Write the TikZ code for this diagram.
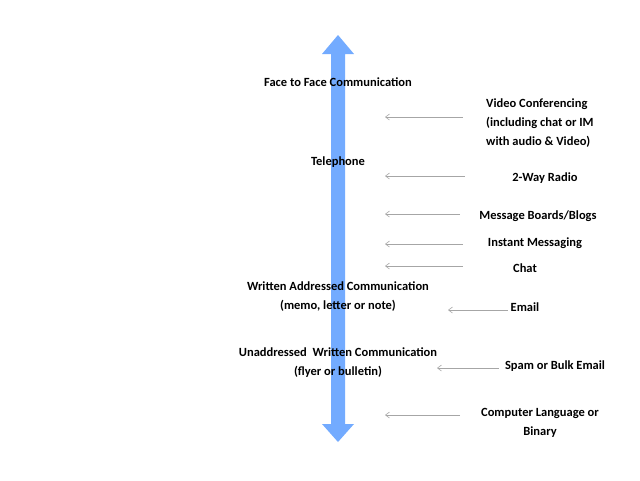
\documentclass[tikz,border=0pt]{standalone}
\usepackage{fontspec}
\setmainfont{Carlito}
\usetikzlibrary{arrows.meta}
\begin{document}
\begin{tikzpicture}[x=1pt,y=-1pt,
  lbl/.style={font=\bfseries\fontsize{12.5}{19}\selectfont, align=center, inner sep=0pt},
  ptr/.style={draw=gray!70, line width=0.6pt, -{Straight Barb[length=4pt,width=6pt]}}]
\useasboundingbox (0,0) rectangle (640,480);
\fill[blue!55!cyan!70!black!80, fill=blue!60!cyan!55] (331,54) -- (322,54) -- (338,35) -- (354,54) -- (345,54) -- (345,424) -- (354,424) -- (338,442) -- (322,424) -- (331,424) -- cycle;
\node[lbl] (f2f) at (338,82) {Face to Face Communication};
\node[lbl] (tel) at (338,162) {Telephone};
\node[lbl] (wac) at (338,297) {Written Addressed Communication\\(memo, letter or note)};
\node[lbl] (uwc) at (338,363) {Unaddressed\ \ Written Communication\\(flyer or bulletin)};
\node[lbl,align=left,anchor=west] (vc) at (486,123) {Video Conferencing\\(including chat or IM\\with audio \& Video)};
\node[lbl] (rad) at (545,178) {2-Way Radio};
\node[lbl] (mb) at (538,216) {Message Boards/Blogs};
\node[lbl] (im) at (535,243) {Instant Messaging};
\node[lbl] (chat) at (525,268) {Chat};
\node[lbl] (em) at (525,307) {Email};
\node[lbl] (spam) at (555,366) {Spam or Bulk Email};
\node[lbl] (cl) at (540,423) {Computer Language or\\Binary};
\coordinate (a1) at (385,117); \draw[ptr] (463,117) -- (a1);
\coordinate (a2) at (385,176); \draw[ptr] (465,176) -- (a2);
\coordinate (a3) at (385,214); \draw[ptr] (460,214) -- (a3);
\coordinate (a4) at (385,244); \draw[ptr] (463,244) -- (a4);
\coordinate (a5) at (385,266); \draw[ptr] (463,266) -- (a5);
\coordinate (a6) at (448,310); \draw[ptr] (em.west)++(-3,3) -- (a6);
\coordinate (a7) at (437,368); \draw[ptr] (spam.west)++(-6,2) -- (a7);
\coordinate (a8) at (385,415); \draw[ptr] (460,415) -- (a8);
\end{tikzpicture}
\end{document}
